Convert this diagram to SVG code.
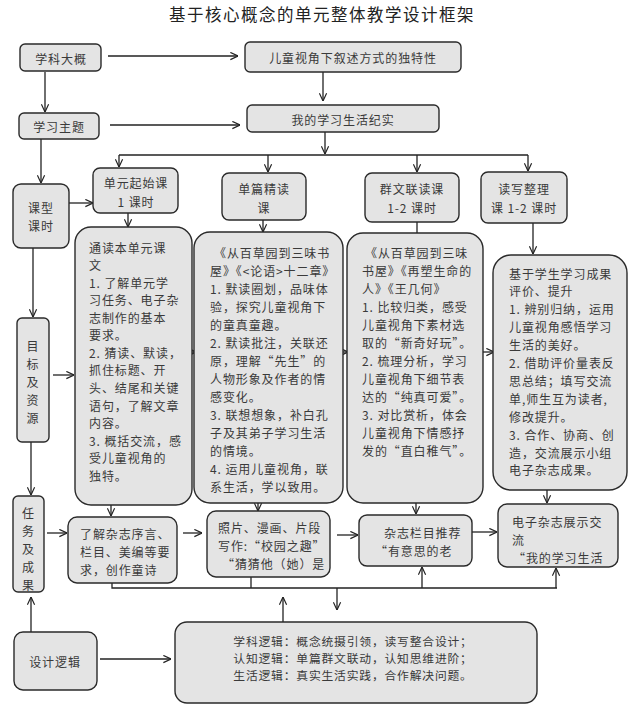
<svg xmlns="http://www.w3.org/2000/svg" width="636" height="709" viewBox="0 0 636 709">
<defs>
<marker id="ah" viewBox="0 0 10 10" refX="9.5" refY="5" markerWidth="9" markerHeight="9" markerUnits="userSpaceOnUse" orient="auto">
<path d="M1,1 L9.5,5 L1,9" fill="none" stroke="#222" stroke-width="1.3"/>
</marker>
</defs>
<style>
rect{fill:#e4e4e4;stroke:#2a2a2a;stroke-width:1.4}
text{font-family:"Noto Sans CJK SC","Noto Sans",sans-serif;font-size:12px;fill:#3a3a3a;dominant-baseline:central;letter-spacing:0.9px}
.c{text-anchor:middle}
.t{font-size:16.5px;letter-spacing:1.5px;fill:#222}
.s{font-size:11.8px;letter-spacing:0.8px}
#connectors line,#connectors polyline{stroke:#222;stroke-width:1.3;fill:none}
.a{marker-end:url(#ah)}
</style>
<rect x="0" y="0" width="636" height="709" style="fill:#fff;stroke:none"/>
<text class="t c" x="322" y="14">基于核心概念的单元整体教学设计框架</text>

<g id="connectors">
<line class="a" x1="108" y1="56" x2="238" y2="56"/>
<line class="a" x1="323" y1="72" x2="323" y2="101"/>
<line class="a" x1="45" y1="72" x2="45" y2="112"/>
<line class="a" x1="110" y1="125" x2="240" y2="125"/>
<line class="a" x1="325" y1="132" x2="325" y2="154"/>
<line x1="119" y1="155" x2="528" y2="155"/>
<line class="a" x1="119" y1="155" x2="119" y2="167"/>
<line class="a" x1="268" y1="155" x2="268" y2="172"/>
<line class="a" x1="417" y1="155" x2="417" y2="172"/>
<line class="a" x1="528" y1="155" x2="528" y2="171"/>
<line class="a" x1="41" y1="139" x2="41" y2="183"/>
<line class="a" x1="69" y1="203" x2="93" y2="203"/>
<line class="a" x1="33" y1="248" x2="33" y2="317"/>
<line class="a" x1="128" y1="213" x2="128" y2="227"/>
<line class="a" x1="263" y1="220" x2="263" y2="232"/>
<line x1="417" y1="222" x2="417" y2="233"/>
<line class="a" x1="533" y1="223" x2="533" y2="254"/>
<line class="a" x1="53" y1="375" x2="74" y2="375"/>
<line class="a" x1="182" y1="352" x2="196" y2="352"/>
<line class="a" x1="335" y1="352" x2="348" y2="352"/>
<line class="a" x1="477" y1="352" x2="494" y2="352"/>
<line class="a" x1="31" y1="442" x2="31" y2="495"/>
<line class="a" x1="47" y1="533" x2="67" y2="533"/>
<line class="a" x1="111" y1="505" x2="111" y2="516"/>
<line class="a" x1="258" y1="503" x2="258" y2="511"/>
<line class="a" x1="416" y1="503" x2="416" y2="514"/>
<line class="a" x1="547" y1="490" x2="547" y2="503"/>
<line class="a" x1="183" y1="533" x2="202" y2="533"/>
<line class="a" x1="337" y1="535" x2="358" y2="535"/>
<line class="a" x1="472" y1="532" x2="497" y2="532"/>
<polyline points="112,583 112,588 557,588"/>
<line x1="251" y1="577" x2="251" y2="588"/>
<line class="a" x1="422" y1="588" x2="422" y2="567"/>
<line class="a" x1="556" y1="588" x2="556" y2="568"/>
<line class="a" x1="337" y1="588" x2="337" y2="610"/>
<line class="a" x1="283" y1="622" x2="283" y2="597"/>
<line class="a" x1="31" y1="632" x2="31" y2="597"/>
<line class="a" x1="100" y1="659" x2="171" y2="659"/>
</g>

<g id="n-xkdg"><rect x="20" y="44" width="81" height="27" rx="5"/><text class="c" x="61" y="58">学科大概</text></g>
<g id="n-etsj"><rect x="245" y="42" width="216" height="30" rx="5"/><text class="c" x="353" y="57">儿童视角下叙述方式的独特性</text></g>
<g id="n-xxzt"><rect x="19" y="113" width="80" height="26" rx="5"/><text class="c" x="59" y="126">学习主题</text></g>
<g id="n-wdxx"><rect x="247" y="105" width="192" height="27" rx="5"/><text class="c" x="343" y="119">我的学习生活纪实</text></g>
<g id="n-kxks"><rect x="13" y="184" width="56" height="64" rx="8"/><text class="c" x="41" y="207">课型</text><text class="c" x="41" y="225">课时</text></g>
<g id="n-dyqs"><rect x="93" y="168" width="85" height="45" rx="7"/><text class="c" x="136" y="182">单元起始课</text><text class="c" x="136" y="201">1 课时</text></g>
<g id="n-dpjd"><rect x="222" y="173" width="84" height="47" rx="7"/><text class="c" x="264" y="188">单篇精读</text><text class="c" x="264" y="207">课</text></g>
<g id="n-qwld"><rect x="365" y="173" width="94" height="49" rx="7"/><text class="c" x="412" y="188">群文联读课</text><text class="c" x="412" y="207">1-2 课时</text></g>
<g id="n-dxzl"><rect x="481" y="172" width="86" height="51" rx="7"/><text class="c" x="524" y="188">读写整理</text><text class="c" x="524" y="207">课 1-2 课时</text></g>
<g id="n-mbzy"><rect x="17" y="318" width="32" height="124" rx="5"/><text class="c" x="33" y="345">目</text><text class="c" x="33" y="363">标</text><text class="c" x="33" y="381">及</text><text class="c" x="33" y="399">资</text><text class="c" x="33" y="417">源</text></g>

<g id="n-box1"><rect x="75" y="227" width="117" height="278" rx="16"/>
<text x="89" y="247">通读本单元课</text>
<text x="89" y="264.6">文</text>
<text x="89" y="282.1">1. 了解单元学</text>
<text x="89" y="299.7">习任务、电子杂</text>
<text x="89" y="317.2">志制作的基本</text>
<text x="89" y="334.8">要求。</text>
<text x="89" y="352.3">2. 猜读、默读，</text>
<text x="89" y="369.9">抓住标题、开</text>
<text x="89" y="387.4">头、结尾和关键</text>
<text x="89" y="405">语句，了解文章</text>
<text x="89" y="422.5">内容。</text>
<text x="89" y="440.1">3. 概括交流，感</text>
<text x="89" y="457.6">受儿童视角的</text>
<text x="89" y="475.2">独特。</text>
</g>
<g id="n-box2"><rect x="194" y="232" width="149" height="271" rx="16"/>
<text x="214" y="252">《从百草园到三味书</text>
<text x="210" y="270">屋》《&lt;论语&gt;十二章》</text>
<text x="210" y="288">1. 默读圈划，品味体</text>
<text x="210" y="306">验，探究儿童视角下</text>
<text x="210" y="324">的童真童趣。</text>
<text x="210" y="342">2. 默读批注，关联还</text>
<text x="210" y="360">原，理解“先生”的</text>
<text x="210" y="378">人物形象及作者的情</text>
<text x="210" y="396">感变化。</text>
<text x="210" y="414">3. 联想想象，补白孔</text>
<text x="210" y="432">子及其弟子学习生活</text>
<text x="210" y="450">的情境。</text>
<text x="210" y="468">4. 运用儿童视角，联</text>
<text x="210" y="486">系生活，学以致用。</text>
</g>
<g id="n-box3"><rect x="347" y="233" width="136" height="270" rx="16"/>
<text x="365" y="252">《从百草园到三味</text>
<text x="362" y="270">书屋》《再塑生命的</text>
<text x="362" y="288">人》《王几何》</text>
<text x="362" y="306">1. 比较归类，感受</text>
<text x="362" y="324">儿童视角下素材选</text>
<text x="362" y="342">取的“新奇好玩”。</text>
<text x="362" y="360">2. 梳理分析，学习</text>
<text x="362" y="378">儿童视角下细节表</text>
<text x="362" y="396">达的“纯真可爱”。</text>
<text x="362" y="414">3. 对比赏析，体会</text>
<text x="362" y="432">儿童视角下情感抒</text>
<text x="362" y="450">发的“直白稚气”。</text>
</g>
<g id="n-box4"><rect x="493" y="255" width="134" height="235" rx="18"/>
<text x="509" y="273">基于学生学习成果</text>
<text x="509" y="290.9">评价、提升</text>
<text x="509" y="308.8">1. 辨别归纳，运用</text>
<text x="509" y="326.7">儿童视角感悟学习</text>
<text x="509" y="344.6">生活的美好。</text>
<text x="509" y="362.5">2. 借助评价量表反</text>
<text x="509" y="380.4">思总结；填写交流</text>
<text x="509" y="398.3">单,师生互为读者,</text>
<text x="509" y="416.2">修改提升。</text>
<text x="509" y="434.1">3. 合作、协商、创</text>
<text x="509" y="452">造，交流展示小组</text>
<text x="509" y="469.9">电子杂志成果。</text>
</g>

<g id="n-rwcg"><rect x="13" y="496" width="31" height="96" rx="5"/><text class="c" x="28.5" y="512">任</text><text class="c" x="28.5" y="530">务</text><text class="c" x="28.5" y="548">及</text><text class="c" x="28.5" y="566">成</text><text class="c" x="28.5" y="584">果</text></g>
<g id="n-ljzz"><rect x="68" y="517" width="109" height="66" rx="9"/><text x="80" y="533">了解杂志序言、</text><text x="80" y="551">栏目、美编等要</text><text x="80" y="569">求，创作童诗</text></g>
<g id="n-zp"><rect x="207" y="511" width="123" height="66" rx="9"/><text x="218" y="527">照片、漫画、片段</text><text x="218" y="545">写作:“校园之趣”</text><text x="222" y="563">“猜猜他（她）是</text></g>
<g id="n-zzlm"><rect x="359" y="515" width="113" height="51" rx="8"/><text x="384" y="532">杂志栏目推荐</text><text x="375" y="550">“有意思的老</text></g>
<g id="n-dzzz"><rect x="498" y="504" width="120" height="63" rx="9"/><text x="512" y="521">电子杂志展示交</text><text x="512" y="539">流</text><text x="513" y="557">“我的学习生活</text></g>

<g id="n-sjlj"><rect x="14" y="632" width="83" height="58" rx="9"/><text class="c" x="55" y="661">设计逻辑</text></g>
<g id="n-ljnr"><rect x="175" y="622" width="362" height="81" rx="12"/>
<text class="c s" x="353" y="640">学科逻辑：概念统摄引领，读写整合设计；</text>
<text class="c s" x="353" y="657.2">认知逻辑：单篇群文联动，认知思维进阶；</text>
<text class="c s" x="353" y="674.4">生活逻辑：真实生活实践，合作解决问题。</text>
</g>
</svg>
